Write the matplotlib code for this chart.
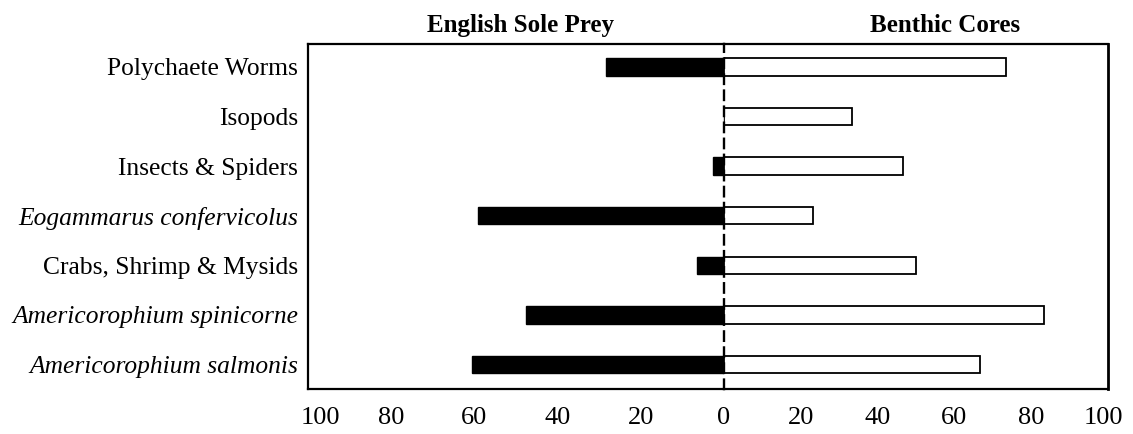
import matplotlib

matplotlib.use("Agg")
import matplotlib.pyplot as plt
import matplotlib.transforms as mtransforms

# categories top -> bottom
categories = [
    "Polychaete Worms",
    "Isopods",
    "Insects & Spiders",
    "Eogammarus confervicolus",
    "Crabs, Shrimp & Mysids",
    "Americorophium spinicorne",
    "Americorophium salmonis",
]
italic = [False, False, False, True, False, True, True]

# percent values
sole_prey = [28.4, 0.0, 2.7, 59.2, 6.6, 47.7, 60.5]
benthic_cores = [73.4, 33.3, 46.6, 23.3, 49.9, 83.3, 66.7]

left_ticks = [100, 80, 60, 40, 20]
right_ticks = [0, 20, 40, 60, 80, 100]

plt.rcParams["font.family"] = ["Liberation Serif", "DejaVu Serif"]

W, H = 1133, 434
fig = plt.figure(figsize=(W / 100, H / 100), dpi=100)
fig.patch.set_facecolor("white")

# axes geometry (pixels)
x_left, x_zero, x_right = 308, 724, 1108
y_top, y_bot = 44, 389.3
bottom = 1 - y_bot / H
height = (y_bot - y_top) / H

ax_l = fig.add_axes([x_left / W, bottom, (x_zero - x_left) / W, height])
ax_r = fig.add_axes([x_zero / W, bottom, (x_right - x_zero) / W, height])

ypos = list(range(len(categories)))
bar_h = 0.35
ylim = (6.5, -0.46)

ax_l.barh(ypos, sole_prey, height=bar_h, color="black", edgecolor="black", linewidth=1.0)
ax_l.set_xlim(100, 0)
ax_l.set_ylim(*ylim)

ax_r.barh(ypos, benthic_cores, height=bar_h, color="white", edgecolor="black", linewidth=1.3)
ax_r.set_xlim(0, 100)
ax_r.set_ylim(*ylim)

# frame
for ax in (ax_l, ax_r):
    for sp in ax.spines.values():
        sp.set_linewidth(1.6)
        sp.set_color("black")
ax_l.spines["right"].set_visible(False)
ax_r.spines["left"].set_linestyle((0, (4, 2.8)))
ax_r.spines["left"].set_linewidth(1.7)
ax_r.spines["right"].set_linewidth(2.0)

# category labels
ax_l.set_yticks(ypos)
ax_l.set_yticklabels(categories, fontsize=18.4)
for lab, it in zip(ax_l.get_yticklabels(), italic):
    if it:
        lab.set_fontstyle("italic")
ax_l.tick_params(axis="y", length=0, pad=7)
ax_r.set_yticks([])

# x tick labels
ax_l.set_xticks(left_ticks)
ax_l.set_xticklabels([str(t) for t in left_ticks], fontsize=19)
ax_r.set_xticks(right_ticks)
ax_r.set_xticklabels([str(t) for t in right_ticks], fontsize=19)
for ax in (ax_l, ax_r):
    ax.tick_params(axis="x", length=0, pad=13)
# the outer "100" labels sit a little inside the frame edges
for lab, dx in ((ax_l.get_xticklabels()[0], 12), (ax_r.get_xticklabels()[-1], -5)):
    lab.set_transform(lab.get_transform() + mtransforms.ScaledTranslation(dx / 100, 0, fig.dpi_scale_trans))

# panel titles
title_y = 1 + 12 / (y_bot - y_top)
ax_l.text(0.51, title_y, "English Sole Prey", transform=ax_l.transAxes,
          ha="center", va="baseline", fontsize=18, fontweight="bold")
ax_r.text(0.576, title_y, "Benthic Cores", transform=ax_r.transAxes,
          ha="center", va="baseline", fontsize=18, fontweight="bold")

fig.savefig("out.png", dpi=100, facecolor="white")
